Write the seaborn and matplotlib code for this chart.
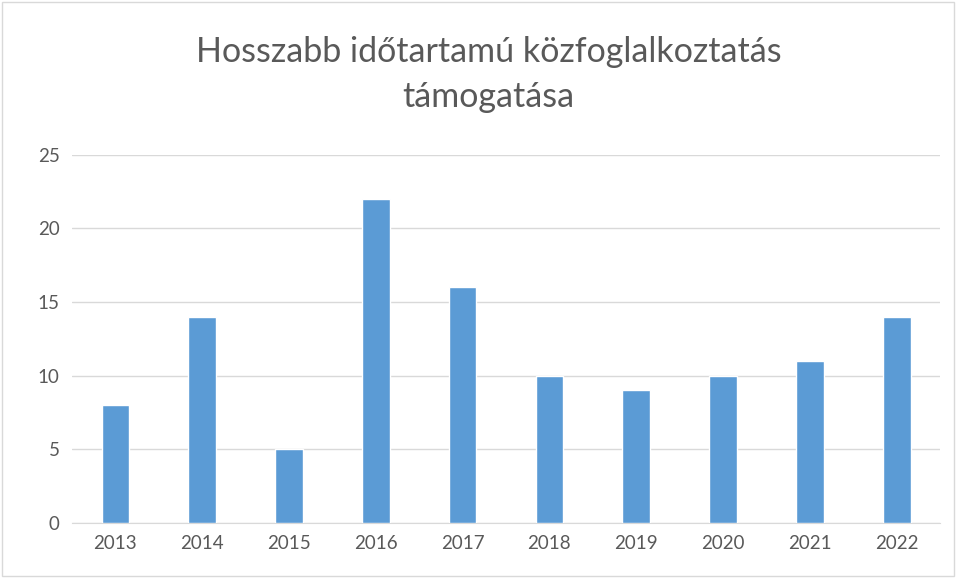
import seaborn as sns
import matplotlib.pyplot as plt
import pandas as pd

years = ['2013', '2014', '2015', '2016', '2017', '2018', '2019', '2020', '2021', '2022']
values = [8, 14, 5, 22, 16, 10, 9, 10, 11, 14]

df = pd.DataFrame({'ev': years, 'db': values})

sns.set_style('white')
plt.rcParams['font.family'] = ['Lato', 'DejaVu Sans']

fig = plt.figure(figsize=(9.56, 5.78), dpi=100)
ax = fig.add_axes([0.0753, 0.0952, 0.908, 0.637])

sns.barplot(data=df, x='ev', y='db', color='#5B9BD5', width=0.32, saturation=1, ax=ax, zorder=3)

ax.set_ylim(0, 25)
ax.set_yticks(range(0, 26, 5))
ax.yaxis.grid(True, color='#D9D9D9', linewidth=1, zorder=0)
ax.set_axisbelow(True)
for s in ['top', 'right', 'left']:
    ax.spines[s].set_visible(False)
ax.spines['bottom'].set_color('#D9D9D9')
ax.tick_params(axis='both', length=0, labelsize=13.5, labelcolor='#595959', pad=9)
ax.set_xlabel('')
ax.set_ylabel('')

fig.text(0.511, 0.937, 'Hosszabb időtartamú közfoglalkoztatás\ntámogatása', ha='center', va='top',
         fontsize=24.5, color='#595959', linespacing=1.5)

fig.patches.append(plt.Rectangle((0.002, 0.003), 0.996, 0.994, transform=fig.transFigure,
                                 fill=False, edgecolor='#D9D9D9', linewidth=1))

fig.savefig('out.png', dpi=100)
